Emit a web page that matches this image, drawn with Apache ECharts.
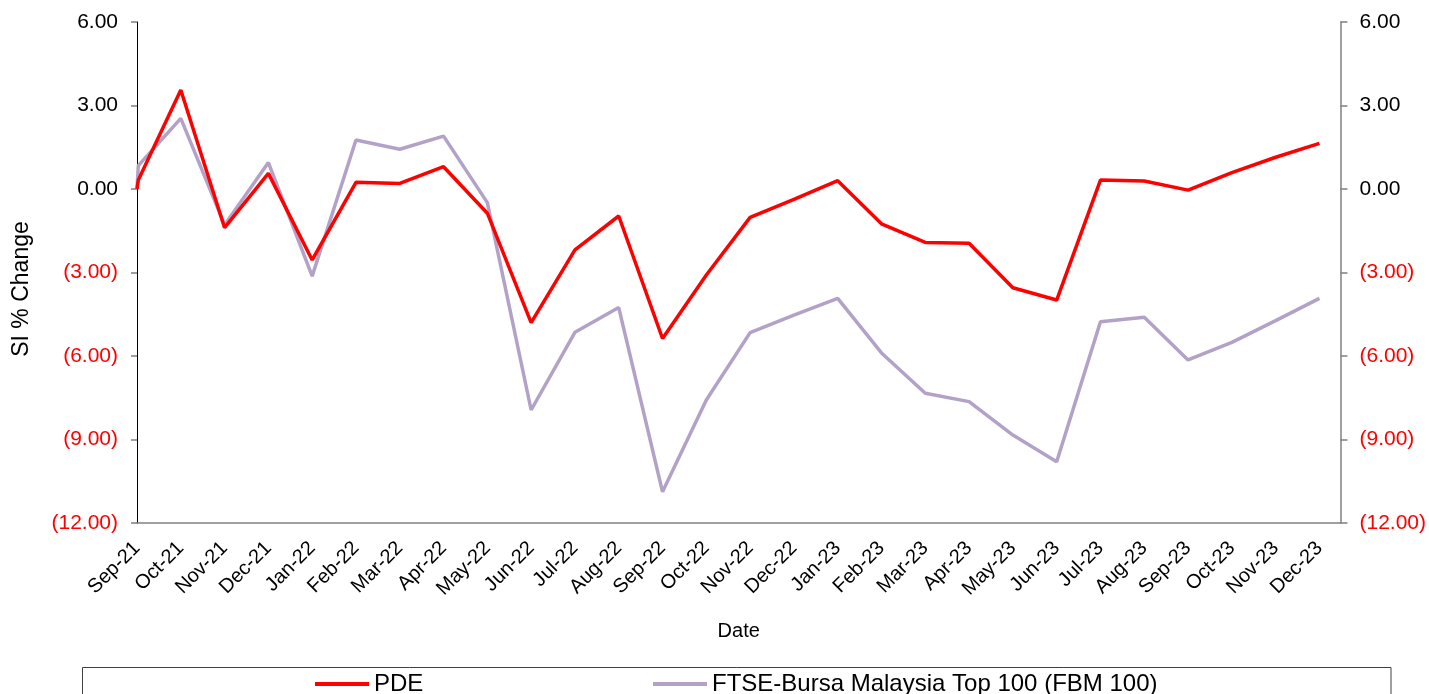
<!DOCTYPE html>
<html>
<head>
<meta charset="utf-8">
<script src="https://cdn.jsdelivr.net/npm/echarts@6/dist/echarts.min.js"></script>
<style>
html,body{margin:0;padding:0;background:#fff;}
#chart{width:1429px;height:694px;}
</style>
</head>
<body>
<div id="chart"></div>
<script>
const categories = ['Sep-21','Oct-21','Nov-21','Dec-21','Jan-22','Feb-22','Mar-22','Apr-22','May-22','Jun-22','Jul-22','Aug-22','Sep-22','Oct-22','Nov-22','Dec-22','Jan-23','Feb-23','Mar-23','Apr-23','May-23','Jun-23','Jul-23','Aug-23','Sep-23','Oct-23','Nov-23','Dec-23'];
const pdeValues = [0.32, 3.56, -1.39, 0.56, -2.55, 0.24, 0.20, 0.80, -0.87, -4.80, -2.19, -0.97, -5.37, -3.09, -1.02, -0.37, 0.30, -1.25, -1.92, -1.95, -3.55, -3.99, 0.32, 0.29, -0.04, 0.59, 1.14, 1.64];
const fbmValues = [0.84, 2.54, -1.29, 0.95, -3.13, 1.76, 1.43, 1.90, -0.49, -7.94, -5.15, -4.26, -10.88, -7.58, -5.16, -4.53, -3.93, -5.89, -7.34, -7.64, -8.84, -9.80, -4.77, -4.61, -6.14, -5.51, -4.73, -3.93];
const inceptionValue = 0;
const seriesNames = ['PDE', 'FTSE-Bursa Malaysia Top 100 (FBM 100)'];
const yTicks = {min: -12, max: 6, interval: 3};

const FONT = "'Liberation Sans', Arial, sans-serif";

function buildData(vals) {
  const d = [[0, inceptionValue]];
  vals.forEach((v, i) => d.push([i === 0 ? 0.03 : i, v]));
  return d;
}
function yFmt(v) {
  if (v < 0) return '{neg|(' + Math.abs(v).toFixed(2) + ')}';
  return '{pos|' + v.toFixed(2) + '}';
}
const rich = {
  neg: {color: '#FF0000', fontSize: 21, fontFamily: FONT},
  pos: {color: '#000000', fontSize: 21, fontFamily: FONT}
};

const chart = echarts.init(document.getElementById('chart'), null, {renderer: 'canvas'});
const xMax = categories.length - 1 + 0.48;

chart.setOption({
  animation: false,
  backgroundColor: '#ffffff',
  grid: {left: 137, right: 87, top: 22, bottom: 171, containLabel: false},
  xAxis: {
    type: 'value',
    min: 0,
    max: xMax,
    interval: 1,
    name: 'Date',
    nameLocation: 'middle',
    nameGap: 98,
    nameTextStyle: {fontSize: 20, color: '#000', fontFamily: FONT},
    axisLine: {show: true, onZero: false, lineStyle: {color: '#808080', width: 1.5}},
    axisTick: {show: false},
    splitLine: {show: false},
    axisLabel: {
      rotate: 45,
      margin: 22,
      fontSize: 20,
      color: '#000',
      fontFamily: FONT,
      showMaxLabel: false,
      formatter: function (v) {
        return Number.isInteger(v) && categories[v] ? categories[v] : '';
      }
    }
  },
  yAxis: [
    {
      type: 'value', position: 'left',
      min: yTicks.min, max: yTicks.max, interval: yTicks.interval,
      axisLine: {show: true, onZero: false, lineStyle: {color: '#000000', width: 1}},
      axisTick: {show: true, length: 6, lineStyle: {color: '#808080', width: 1.5}},
      splitLine: {show: false},
      axisLabel: {margin: 19, formatter: yFmt, rich: rich, fontSize: 21, fontFamily: FONT}
    },
    {
      type: 'value', position: 'right',
      min: yTicks.min, max: yTicks.max, interval: yTicks.interval,
      axisLine: {show: true, onZero: false, lineStyle: {color: '#808080', width: 1.5}},
      axisTick: {show: true, length: 7, lineStyle: {color: '#808080', width: 1.5}},
      splitLine: {show: false},
      axisLabel: {margin: 19, formatter: yFmt, rich: rich, fontSize: 21, fontFamily: FONT}
    }
  ],
  legend: [
    {
      data: [seriesNames[0]], left: 315, top: 672, padding: 0,
      icon: 'rect', itemWidth: 54, itemHeight: 4, itemGap: 0,
      textStyle: {fontSize: 24, color: '#000', fontFamily: FONT}
    },
    {
      data: [seriesNames[1]], left: 653, top: 672, padding: 0,
      icon: 'rect', itemWidth: 54, itemHeight: 4, itemGap: 0,
      textStyle: {fontSize: 24, color: '#000', fontFamily: FONT}
    }
  ],
  graphic: [
    {
      type: 'rect',
      shape: {x: 82.5, y: 667.5, width: 1308.5, height: 40},
      style: {fill: 'none', stroke: '#404040', lineWidth: 1},
      silent: true, z: -1
    },
    {
      type: 'text',
      x: 22, y: 289,
      rotation: Math.PI / 2,
      style: {text: 'SI % Change', fontSize: 23, fontFamily: FONT, fill: '#000', align: 'center', verticalAlign: 'middle'}
    }
  ],
  series: [
    {
      name: seriesNames[0], type: 'line', yAxisIndex: 0,
      data: buildData(pdeValues),
      showSymbol: false, symbol: 'none',
      lineStyle: {color: '#FF0000', width: 3.5},
      itemStyle: {color: '#FF0000'},
      z: 3
    },
    {
      name: seriesNames[1], type: 'line', yAxisIndex: 0,
      data: buildData(fbmValues),
      showSymbol: false, symbol: 'none',
      lineStyle: {color: '#B3A2C7', width: 3.5},
      itemStyle: {color: '#B3A2C7'},
      z: 2
    }
  ]
});
</script>
</body>
</html>
